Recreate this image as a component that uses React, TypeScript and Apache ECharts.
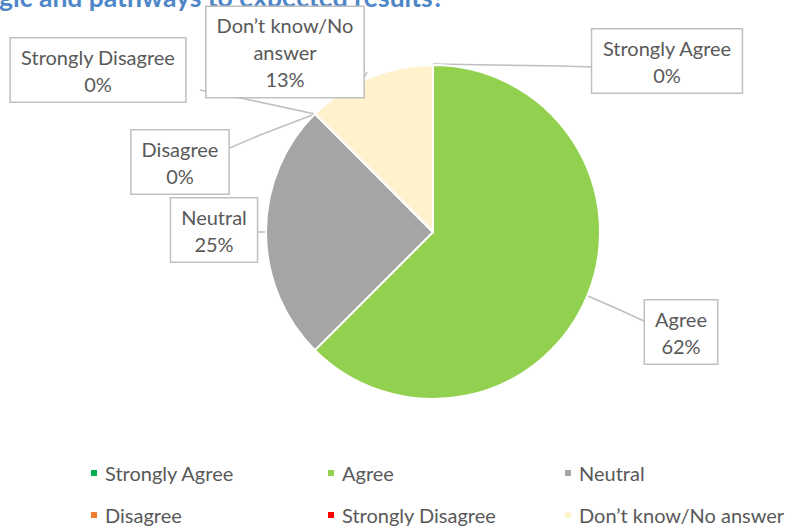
import React, { useEffect, useRef } from "react";
import * as echarts from "echarts";

const categories = ["Strongly Agree", "Agree", "Neutral", "Disagree", "Strongly Disagree", "Don’t know/No answer"];
const values = [0, 62.5, 25, 0, 0, 12.5];
const pctLabels = ["0%", "62%", "25%", "0%", "0%", "13%"];
const colors = ["#00b050", "#92d050", "#a5a5a5", "#ed7d31", "#ff0000", "#fff2cc"];
const titleText = "gic and pathways to expected results?";

// label box centres and leader points (layout only)
const labelPos: [number, number][] = [
  [667, 61],
  [681, 332],
  [214, 230],
  [180, 162],
  [98, 70],
  [285, 52],
];
const linePts: [number, number][][] = [
  [[433, 64], [560, 66], [592, 67]],
  [[588, 296], [620, 310], [646, 322]],
  [[266, 232], [261, 232], [256, 232]],
  [[315, 114], [260, 135], [225, 150]],
  [[315, 114], [250, 100], [200, 90]],
  [[367, 72], [365, 76], [363, 80]],
];

const FONT = "Lato, 'Open Sans', sans-serif";

export default function App() {
  const ref = useRef<HTMLDivElement>(null);
  useEffect(() => {
    document.body.style.margin = "0";
    const chart = echarts.init(ref.current!, null, { renderer: "svg" });
    const legendCols = [
      { names: [categories[0], categories[3]], left: 84 },
      { names: [categories[1], categories[4]], left: 321 },
      { names: [categories[2], categories[5]], left: 558 },
    ];
    chart.setOption({
      animation: false,
      color: colors,
      legend: legendCols.map((c) => ({
        data: c.names,
        left: c.left,
        top: 458,
        height: 100,
        orient: "vertical",
        icon: "rect",
        itemWidth: 8,
        itemHeight: 8,
        itemGap: 22,
        selectedMode: false,
        textStyle: { fontFamily: FONT, fontSize: 20, color: "#595959", lineHeight: 20, padding: [0, 0, 0, 2] },
      })),
      graphic: [
        {
          type: "text",
          x: -1,
          y: -3,
          style: {
            text: titleText,
            font: "bold 26.5px " + FONT,
            fill: "#4e86c8",
            verticalAlign: "middle",
          },
        },
      ],
      series: [
        {
          type: "pie",
          center: [433, 232],
          radius: 167,
          startAngle: 90,
          clockwise: true,
          avoidLabelOverlap: false,
          data: categories.map((n, i) => ({ name: n, value: values[i] })),
          itemStyle: { borderColor: "#ffffff", borderWidth: 2 },
          label: {
            show: true,
            position: "outside",
            formatter: (p: any) => p.name.replace("/No ", "/No\n") + "\n" + pctLabels[p.dataIndex],
            fontFamily: FONT,
            fontSize: 20,
            lineHeight: 27,
            color: "#595959",
            align: "center",
            backgroundColor: "#ffffff",
            borderColor: "#bfbfbf",
            borderWidth: 1.5,
            padding: [5, 10, 4, 10],
          },
          labelLine: { show: true, lineStyle: { color: "#bfbfbf", width: 1.5 } },
          labelLayout: (p: any) => ({
            x: labelPos[p.dataIndex][0],
            y: labelPos[p.dataIndex][1],
            align: "center",
            verticalAlign: "middle",
            labelLinePoints: linePts[p.dataIndex],
          }),
          emphasis: { disabled: true },
        },
      ],
    });
    return () => chart.dispose();
  }, []);
  return <div ref={ref} style={{ width: 790, height: 529 }} />;
}
